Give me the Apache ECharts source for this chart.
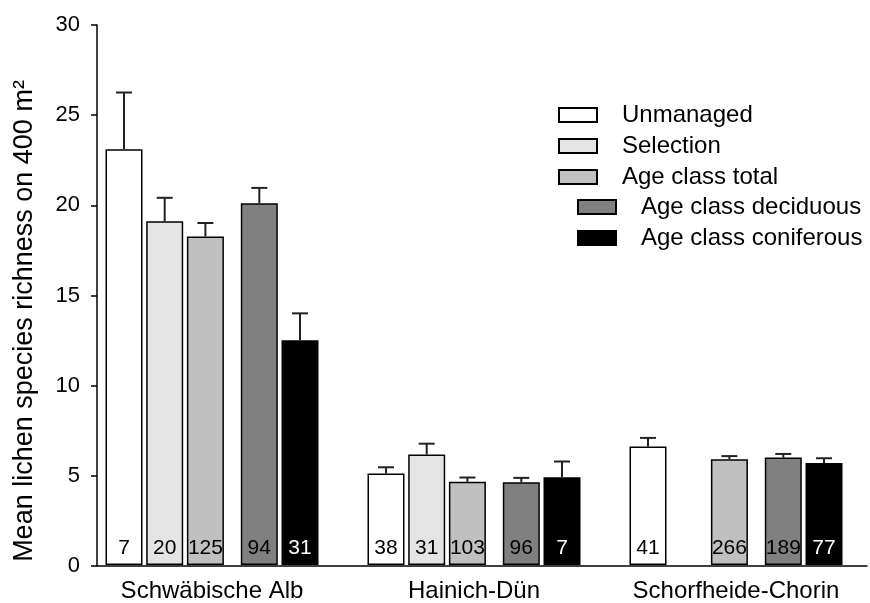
<!DOCTYPE html>
<html><head><meta charset="utf-8">
<script src="https://cdn.jsdelivr.net/npm/echarts@6/dist/echarts.min.js"></script>
<style>html,body{margin:0;padding:0;background:#fff}#c{width:870px;height:603px}</style>
</head><body><div id="c"></div>
<script>
const categories = ['Schwäbische Alb', 'Hainich-Dün', 'Schorfheide-Chorin'];
const seriesNames = ['Unmanaged', 'Selection', 'Age class total', 'Age class deciduous', 'Age class coniferous'];
const yTicks = [0, 5, 10, 15, 20, 25, 30];

// means
const unmanaged  = [23.1, 5.08, 6.58];
const selection  = [19.1, 6.14, null];
const ageTotal   = [18.25, 4.62, 5.88];
const ageDecid   = [20.1, 4.6, 5.97];
const ageConif   = [12.48, 4.88, 5.66];
// standard errors (upper whisker length)
const unmanagedSE = [3.15, 0.35, 0.48];
const selectionSE = [1.3, 0.6, null];
const ageTotalSE  = [0.75, 0.24, 0.17];
const ageDecidSE  = [0.85, 0.24, 0.2];
const ageConifSE  = [1.5, 0.87, 0.27];
// sample sizes
const unmanagedN = [7, 38, 41];
const selectionN = [20, 31, null];
const ageTotalN  = [125, 103, 266];
const ageDecidN  = [94, 96, 189];
const ageConifN  = [31, 7, 77];

const means = [unmanaged, selection, ageTotal, ageDecid, ageConif];
const ses = [unmanagedSE, selectionSE, ageTotalSE, ageDecidSE, ageConifSE];
const ns = [unmanagedN, selectionN, ageTotalN, ageDecidN, ageConifN];
const colors = ['#ffffff', '#e4e4e4', '#c0c0c0', '#808080', '#000000'];
const labelColors = ['#000', '#000', '#000', '#000', '#fff'];

// layout constants (bar widths incl. a spacer column between total and deciduous)
const BAR_W = 37, SPACER_W = 12, GAP = 0.1;
const colWidths = [BAR_W, BAR_W, BAR_W, SPACER_W, BAR_W, BAR_W];
let widthSum = 0;
colWidths.forEach(w => widthSum += w * (1 + GAP));
widthSum -= colWidths[colWidths.length - 1] * GAP;
const centers = [];
let off = -widthSum / 2;
colWidths.forEach(w => { centers.push(off + w / 2); off += w * (1 + GAP); });
const barCenters = [centers[0], centers[1], centers[2], centers[4], centers[5]];

const FONT = 'Liberation Sans, Arial, sans-serif';
const series = [];
means.forEach((arr, i) => {
  series.push({
    name: seriesNames[i], type: 'bar', xAxisIndex: 0, yAxisIndex: 0,
    barWidth: BAR_W, barGap: (GAP * 100) + '%',
    data: arr,
    itemStyle: { color: colors[i], borderColor: '#000', borderWidth: 1.5 },
    label: {
      show: true, position: 'insideBottom', distance: 6,
      color: labelColors[i], fontSize: 21, fontFamily: FONT,
      formatter: p => ns[i][p.dataIndex] == null ? '' : String(ns[i][p.dataIndex])
    },
    emphasis: { disabled: true }, z: 2
  });
  if (i === 2) {
    series.push({ name: 'spacer', type: 'bar', xAxisIndex: 0, yAxisIndex: 0,
      barWidth: SPACER_W, barGap: (GAP * 100) + '%', data: [null, null, null] });
  }
});
means.forEach((arr, i) => {
  const data = [];
  arr.forEach((m, k) => { if (m != null) data.push([k, m, m + ses[i][k]]); });
  const dx = barCenters[i];
  series.push({
    name: 'err' + i, type: 'custom', xAxisIndex: 0, yAxisIndex: 0, z: 3,
    encode: { x: 0, y: [1, 2] }, clip: false, silent: true,
    data: data,
    renderItem: (params, api) => {
      const x = api.coord([api.value(0), 0])[0] + dx;
      const yb = api.coord([api.value(0), api.value(1)])[1];
      const yt = api.coord([api.value(0), api.value(2)])[1];
      const st = { stroke: '#222', lineWidth: 2 };
      return { type: 'group', children: [
        { type: 'line', shape: { x1: x, y1: yb, x2: x, y2: yt }, style: st },
        { type: 'line', shape: { x1: x - 8, y1: yt, x2: x + 8, y2: yt }, style: st }
      ]};
    }
  });
});

const legendCommon = {
  orient: 'vertical', icon: 'rect', itemWidth: 38, itemHeight: 14, itemGap: 7,
  selectedMode: false,
  textStyle: { fontSize: 24, color: '#000', fontFamily: FONT, lineHeight: 24, padding: [0, 0, 0, 20] }
};

const chart = echarts.init(document.getElementById('c'));
chart.setOption({
  animation: false,
  backgroundColor: '#fff',
  textStyle: { fontFamily: FONT },
  grid: [
    { left: 81, right: 3, top: 25, bottom: 37 },
    { left: 97, right: 3, top: 25, bottom: 37 }
  ],
  legend: [
    Object.assign({ data: seriesNames.slice(0, 3), left: 553, top: 98 }, legendCommon),
    Object.assign({ data: seriesNames.slice(3), left: 572, top: 190 }, legendCommon)
  ],
  xAxis: [
    { gridIndex: 0, type: 'category', data: categories,
      axisLine: { show: false }, axisTick: { show: false },
      axisLabel: { interval: 0, fontSize: 24, color: '#000', margin: 14, fontFamily: FONT } },
    { gridIndex: 1, type: 'value', min: 0, max: 1,
      axisLine: { show: true, lineStyle: { color: '#000', width: 1.5 } },
      axisTick: { show: false }, axisLabel: { show: false }, splitLine: { show: false } }
  ],
  yAxis: [
    { gridIndex: 0, type: 'value', min: 0, max: 30, show: false },
    { gridIndex: 1, type: 'value', min: yTicks[0], max: yTicks[yTicks.length - 1], interval: 5,
      axisLine: { show: true, lineStyle: { color: '#000', width: 1.5 } },
      axisTick: { show: true, length: 6, lineStyle: { color: '#000', width: 1.5 } },
      axisLabel: { fontSize: 22, color: '#000', margin: 17, fontFamily: FONT },
      splitLine: { show: false },
      name: 'Mean lichen species richness on 400 m²', nameLocation: 'middle', nameGap: 59,
      nameTextStyle: { fontSize: 27, color: '#000', fontFamily: FONT, padding: [0, 51, 0, 0] } }
  ],
  series: series
});
</script></body></html>
